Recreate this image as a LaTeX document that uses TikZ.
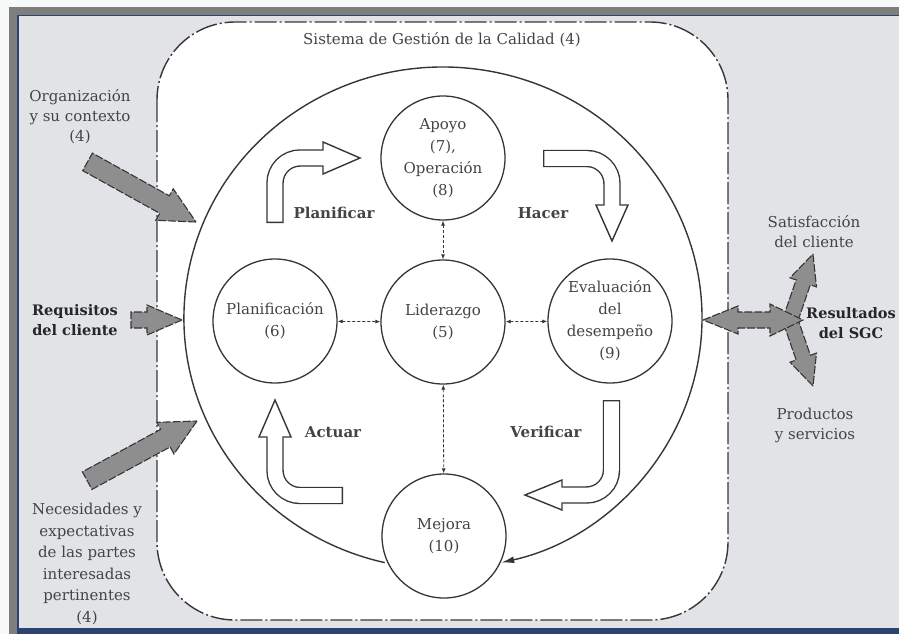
\documentclass[tikz,border=0pt]{standalone}
\usepackage{fontspec}
\setmainfont{DejaVu Serif}
\usetikzlibrary{arrows.meta,calc}

\definecolor{pagebg}{HTML}{F7F8FA}
\definecolor{framegray}{HTML}{7E7E7E}
\definecolor{framenavy}{HTML}{2E4372}
\definecolor{panelgray}{HTML}{E1E3E7}
\definecolor{inkdark}{HTML}{363636}
\definecolor{inktext}{HTML}{444444}
\definecolor{boldtext}{HTML}{262626}
\definecolor{arrowfill}{HTML}{8E8E8E}

\tikzset{
  process/.style={circle, draw=inkdark, line width=1.3pt, fill=white,
    minimum size=124pt, inner sep=0pt, align=center, text=inktext,
    font=\fontsize{15}{22}\selectfont},
  link/.style={draw=inkdark, line width=0.8pt, dash pattern=on 3pt off 2pt,
    {Latex[length=5pt,width=4pt]}-{Latex[length=5pt,width=4pt]}},
  sidetext/.style={align=center, text=inktext, font=\fontsize{15}{20}\selectfont},
  keytext/.style={align=center, text=boldtext, font=\fontsize{14.5}{20}\selectfont\bfseries},
  phase/.style={text=inktext, font=\fontsize{15}{18}\selectfont\bfseries},
  sgcframe/.style={draw=inkdark, line width=1.4pt, fill=white, rounded corners=78pt,
    dash pattern=on 22pt off 3pt on 2pt off 3pt},
  cycleloop/.style={draw=inkdark, line width=1.4pt, -{Latex[length=13pt,width=7pt]}},
  blockarrow/.style={fill=arrowfill, draw=inkdark, line width=1.1pt,
    dash pattern=on 8pt off 2pt, line join=miter},
  bentouter/.style={draw=inkdark, line width=17.4pt, rounded corners=25pt},
  bentinner/.style={draw=white, line width=14.6pt, rounded corners=25pt},
  benthead/.style={fill=white, draw=inkdark, line width=1.4pt, line join=miter},
}

% gray block arrow: tip, direction angle, total length,
% shaft half-width, head half-width, head length
\newcommand\sgcblockarrow[6]{%
  \draw[blockarrow, shift={#1}, rotate=#2]
    (0,0) -- (-#6,#5) -- (-#6,#4) -- (-#3,#4) -- (-#3,-#4)
    -- (-#6,-#4) -- (-#6,-#5) -- cycle;}

\begin{document}
\begin{tikzpicture}[x=1pt,y=-1pt]
\useasboundingbox (0,0) rectangle (899,634);

% page, frame and panel
\fill[pagebg] (0,0) rectangle (899,634);
\fill[framegray] (9,7) rectangle (899,634);
\fill[framenavy] (17,15) rectangle (899,634);
\fill[panelgray] (18.5,16.5) rectangle (899,628);

% quality management system boundary
\draw[sgcframe] (157,22) rectangle (728,620);
\node[text=inktext, font=\fontsize{15}{18}\selectfont] (title) at (442,40)
  {Sistema de Gestión de la Calidad (4)};

% PDCA loop around the processes
\coordinate (loopstart) at (384.7,562.6);
\draw[cycleloop] (loopstart) arc[start angle=103, end angle=437, x radius=259, y radius=251];

% process circles
\node[process] (apoyo)  at (443,158) {Apoyo\\(7),\\Operación\\(8)};
\node[process] (lider)  at (443,322) {Liderazgo\\(5)};
\node[process] (plan)   at (275,321) {Planificación\\(6)};
\node[process] (eval)   at (610,321) {Evaluación\\del\\desempeño\\(9)};
\node[process] (mejora) at (444,536) {Mejora\\(10)};

\draw[link] (apoyo) -- (lider);
\draw[link] (plan) -- (lider);
\draw[link] (lider) -- (eval);
\draw[link] (lider) -- (mejora);

% hollow bent arrows of the cycle
% Planificar
\draw[bentouter] (275,223) -- (275,158) -- (323,158);
\filldraw[benthead] (323,142) -- (360,158) -- (323,174) -- cycle;
\draw[bentinner, shorten <=1.4pt, shorten >=-2pt] (275,223) -- (275,158) -- (323,158);
% Hacer
\draw[bentouter] (543,158.5) -- (612,158.5) -- (612,205);
\filldraw[benthead] (596,205) -- (612,241) -- (628,205) -- cycle;
\draw[bentinner, shorten <=1.4pt, shorten >=-2pt] (543,158.5) -- (612,158.5) -- (612,205);
% Verificar
\draw[bentouter] (611.5,400) -- (611.5,495) -- (562,495);
\filldraw[benthead] (562,480) -- (525,495) -- (562,510) -- cycle;
\draw[bentinner, shorten <=1.4pt, shorten >=-2pt] (611.5,400) -- (611.5,495) -- (562,495);
% Actuar
\draw[bentouter] (343,495.5) -- (275,495.5) -- (275,437);
\filldraw[benthead] (259,437) -- (275,400) -- (291,437) -- cycle;
\draw[bentinner, shorten <=1.4pt, shorten >=-2pt] (343,495.5) -- (275,495.5) -- (275,437);

\node[phase] (lblplan) at (334,213) {Planificar};
\node[phase] (lblhacer) at (543,213) {Hacer};
\node[phase] (lblactuar) at (333,432) {Actuar};
\node[phase] (lblverif) at (546,432) {Verificar};

% inputs
\node[sidetext] (org) at (80,117) {Organización\\y su contexto\\(4)};
\node[keytext] (req) at (75,320) {Requisitos\\del cliente};
\node[sidetext, font=\fontsize{15}{21.6}\selectfont] (nec) at (87,564)
  {Necesidades y\\expectativas\\de las partes\\interesadas\\pertinentes\\(4)};

\sgcblockarrow{(196,222)}{-29}{124}{10}{18}{36}
\sgcblockarrow{(182,320)}{0}{51}{8}{15}{35}
\sgcblockarrow{(197,421)}{28.5}{125}{10}{18}{36}

% outputs
\sgcblockarrow{(813,254)}{71}{68}{7.5}{14}{30}
\sgcblockarrow{(813,386)}{-71}{68}{7.5}{14}{30}
\draw[blockarrow] (703,320) -- (738,306) -- (738,312) -- (770,312) -- (770,304)
  -- (803,320) -- (770,336) -- (770,328) -- (738,328) -- (738,334) -- cycle;

\node[sidetext] (sat) at (814,232) {Satisfacción\\del cliente};
\node[keytext] (res) at (851,323) {Resultados\\del SGC};
\node[sidetext] (prod) at (815,425) {Productos\\y servicios};
\end{tikzpicture}
\end{document}
